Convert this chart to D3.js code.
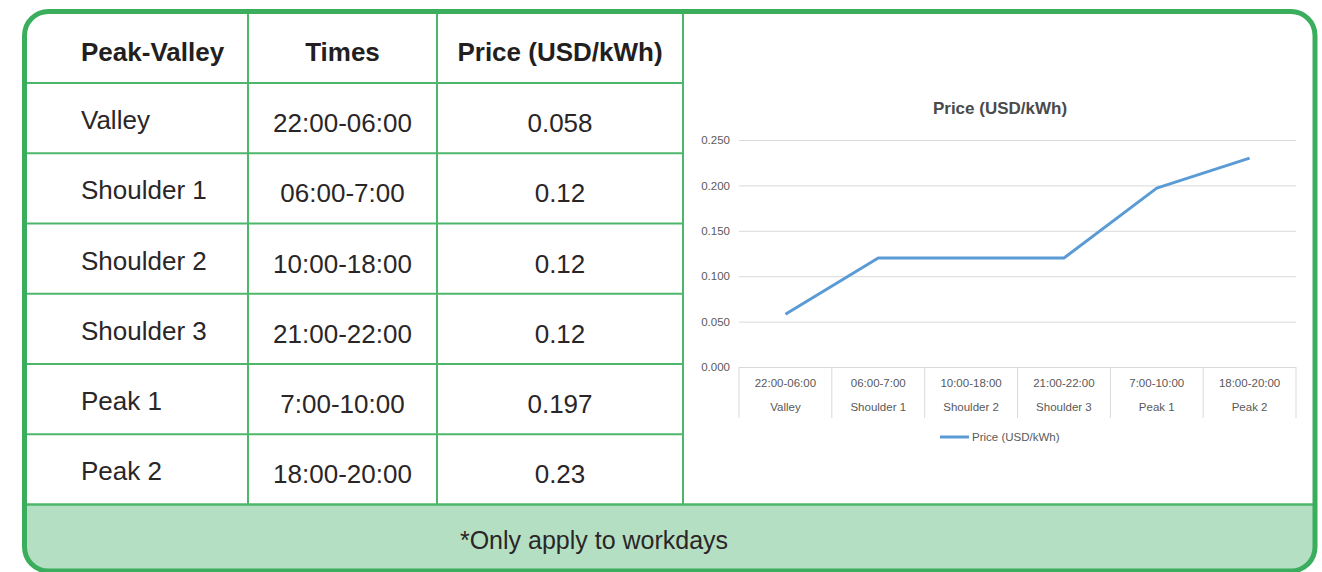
<!DOCTYPE html>
<html>
<head>
<meta charset="utf-8">
<script src="https://cdn.jsdelivr.net/npm/d3@7"></script>
<style>
  html, body { margin: 0; padding: 0; background: #fff; }
  svg { display: block; }
</style>
</head>
<body>
<div id="tariff"></div>
<script>
// table + chart data
const periods = ["Valley", "Shoulder 1", "Shoulder 2", "Shoulder 3", "Peak 1", "Peak 2"];
const times = ["22:00-06:00", "06:00-7:00", "10:00-18:00", "21:00-22:00", "7:00-10:00", "18:00-20:00"];
const prices = [0.058, 0.12, 0.12, 0.12, 0.197, 0.23];
const headers = ["Peak-Valley", "Times", "Price (USD/kWh)"];
const yTicks = [0, 0.05, 0.1, 0.15, 0.2, 0.25];
const chartTitle = "Price (USD/kWh)";
const footNote = "*Only apply to workdays";

const W = 1322, H = 572;
const green = "#3bae5e";
const lineGreen = "#4cb76b";
const textCol = "#231f20";
const greyText = "#595959";

const svg = d3.select("#tariff")
  .append("svg")
  .attr("width", W)
  .attr("height", H);

// frame
const fx = 24.5, fy = 11.5, fw = 1290.5, fh = 559.5, fr = 24;
const footTop = 504.5;

svg.append("clipPath").attr("id", "frameClip")
  .append("rect")
  .attr("x", fx).attr("y", fy).attr("width", fw).attr("height", fh).attr("rx", fr);

svg.append("rect")
  .attr("x", fx).attr("y", fy).attr("width", fw).attr("height", fh).attr("rx", fr)
  .attr("fill", "#fff");

svg.append("rect")
  .attr("clip-path", "url(#frameClip)")
  .attr("x", fx).attr("y", footTop).attr("width", fw).attr("height", fh)
  .attr("fill", "#b5dfc3");

// table grid
const colEdges = [fx, 248, 437, 683];
const rowY = d3.scaleBand().domain(periods).range([83, footTop]);

const grid = svg.append("g")
  .attr("stroke", lineGreen)
  .attr("stroke-width", 2);

colEdges.slice(1).forEach(x => {
  grid.append("line").attr("x1", x).attr("x2", x).attr("y1", fy).attr("y2", footTop);
});
grid.selectAll("line.row")
  .data(periods)
  .join("line")
  .attr("class", "row")
  .attr("x1", fx).attr("x2", 683)
  .attr("y1", d => rowY(d)).attr("y2", d => rowY(d));
grid.append("line")
  .attr("x1", fx).attr("x2", fx + fw).attr("y1", footTop).attr("y2", footTop)
  .attr("stroke-width", 2.5);

// header text
const colX = [81, (248 + 437) / 2, (437 + 683) / 2];
const anchors = ["start", "middle", "middle"];
svg.append("g").selectAll("text")
  .data(headers)
  .join("text")
  .attr("x", (d, i) => colX[i])
  .attr("y", 61)
  .attr("text-anchor", (d, i) => anchors[i])
  .attr("font-family", "'Liberation Sans', Arial, sans-serif")
  .attr("font-weight", "bold")
  .attr("font-size", 26)
  .attr("fill", textCol)
  .text(d => d);

// body rows
const rows = periods.map((p, i) => [p, times[i], String(prices[i])]);
const rowG = svg.append("g")
  .attr("font-family", "'Liberation Sans', Arial, sans-serif")
  .attr("font-size", 26)
  .attr("fill", "#2a2627")
  .selectAll("g")
  .data(rows)
  .join("g")
  .attr("transform", (d, i) => `translate(0,${rowY(periods[i])})`);

rowG.selectAll("text")
  .data(d => d)
  .join("text")
  .attr("x", (d, i) => colX[i])
  .attr("y", (d, i) => i === 0 ? 46 : 49)
  .attr("text-anchor", (d, i) => anchors[i])
  .text(d => d);

// footnote
svg.append("text")
  .attr("x", 594)
  .attr("y", 549)
  .attr("text-anchor", "middle")
  .attr("font-family", "'Liberation Sans', Arial, sans-serif")
  .attr("font-size", 25)
  .attr("fill", "#2a2627")
  .text(footNote);

// outer border on top
svg.append("rect")
  .attr("x", fx).attr("y", fy).attr("width", fw).attr("height", fh).attr("rx", fr)
  .attr("fill", "none")
  .attr("stroke", green)
  .attr("stroke-width", 5);

// ---- line chart ----
const chart = svg.append("g")
  .attr("font-family", "'Liberation Sans', Arial, sans-serif");

const x = d3.scaleBand().domain(periods).range([739, 1296]);
const y = d3.scaleLinear().domain([0, 0.25]).range([367, 140]);

chart.append("text")
  .attr("x", 1000)
  .attr("y", 114)
  .attr("text-anchor", "middle")
  .attr("font-size", 17)
  .attr("font-weight", "bold")
  .attr("fill", "#4a4a4a")
  .text(chartTitle);

const yAxis = chart.append("g")
  .attr("transform", "translate(739,0)")
  .call(d3.axisLeft(y).tickValues(yTicks).tickFormat(d3.format(".3f")).tickSize(-(1296 - 739)).tickPadding(9));
yAxis.select(".domain").remove();
yAxis.selectAll(".tick line").attr("stroke", "#d9d9d9").attr("stroke-width", 1);
yAxis.selectAll(".tick text")
  .attr("font-size", 11.5)
  .attr("fill", greyText)
  .attr("font-family", "'Liberation Sans', Arial, sans-serif");

// two-level category axis
const catG = chart.append("g");
const edges = periods.map(p => x(p)).concat([x.range()[1]]);
catG.selectAll("line")
  .data(edges)
  .join("line")
  .attr("x1", d => d).attr("x2", d => d)
  .attr("y1", y(0)).attr("y2", 418)
  .attr("stroke", "#d9d9d9");
catG.selectAll("text.time")
  .data(times)
  .join("text")
  .attr("class", "time")
  .attr("x", (d, i) => x(periods[i]) + x.bandwidth() / 2)
  .attr("y", 387)
  .attr("text-anchor", "middle")
  .attr("font-size", 11.5)
  .attr("fill", greyText)
  .text(d => d);
catG.selectAll("text.name")
  .data(periods)
  .join("text")
  .attr("class", "name")
  .attr("x", d => x(d) + x.bandwidth() / 2)
  .attr("y", 411)
  .attr("text-anchor", "middle")
  .attr("font-size", 11.5)
  .attr("fill", greyText)
  .text(d => d);

// price line
const line = d3.line()
  .x((d, i) => x(periods[i]) + x.bandwidth() / 2)
  .y(d => y(d));
chart.append("path")
  .datum(prices)
  .attr("d", line)
  .attr("fill", "none")
  .attr("stroke", "#5b9bd5")
  .attr("stroke-width", 3)
  .attr("stroke-linejoin", "round");

// legend
chart.append("line")
  .attr("x1", 940).attr("x2", 969).attr("y1", 437).attr("y2", 437)
  .attr("stroke", "#5b9bd5").attr("stroke-width", 3);
chart.append("text")
  .attr("x", 972)
  .attr("y", 441)
  .attr("font-size", 11.5)
  .attr("fill", greyText)
  .text(chartTitle);
</script>
</body>
</html>
